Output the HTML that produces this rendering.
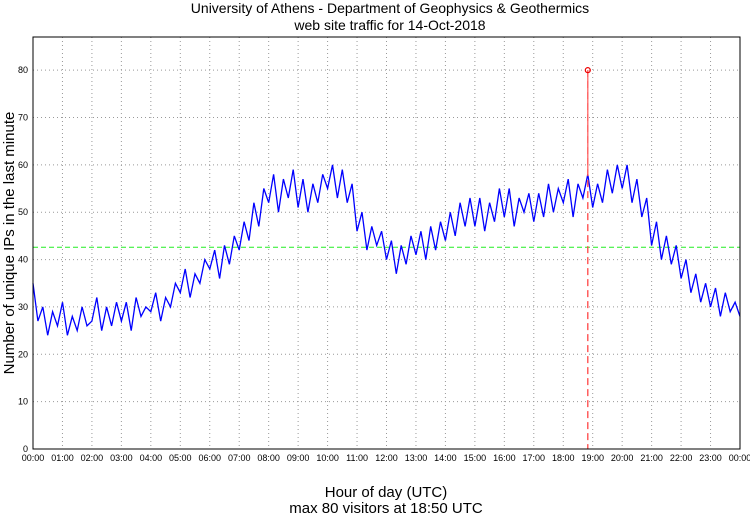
<!DOCTYPE html>
<html><head><meta charset="utf-8"><style>
body{margin:0;background:#fff;}
svg{display:block;font-family:"Liberation Sans",sans-serif;}
</style></head><body>
<svg id="chart" width="750" height="515">
<text x="390" y="13" font-size="14" text-anchor="middle">University of Athens - Department of Geophysics &amp; Geothermics</text>
<text x="390" y="30" font-size="14" text-anchor="middle">web site traffic for 14-Oct-2018</text>
<text x="386" y="497" font-size="15" text-anchor="middle">Hour of day (UTC)</text>
<text x="386" y="513" font-size="15" text-anchor="middle">max 80 visitors at 18:50 UTC</text>
<text transform="translate(14,243) rotate(-90)" font-size="15" text-anchor="middle">Number of unique IPs in the last minute</text>
<g id="grid"></g><g id="ticks"></g><g id="marks"></g>
<rect x="33" y="37" width="707" height="412" fill="none" stroke="#000" stroke-width="1"/>
</svg>
<script>
const yTicks=[0,10,20,30,40,50,60,70,80];
const xTickLabels=["00:00","01:00","02:00","03:00","04:00","05:00","06:00","07:00","08:00","09:00","10:00","11:00","12:00","13:00","14:00","15:00","16:00","17:00","18:00","19:00","20:00","21:00","22:00","23:00","00:00"];
// visitors sampled every 10 minutes (hours 00..23) plus final
const visitors=[35,27,30,24,29,26, 31,24,28,25,30,26, 27,32,25,30,26,31, 27,31,25,32,28,30,
29,33,27,32,30,35, 33,38,32,37,35,40, 38,42,36,43,39,45, 42,48,44,52,47,55,
52,58,50,57,53,59, 51,57,50,56,52,58, 55,60,53,59,52,56, 46,50,42,47,43,46,
40,44,37,43,39,45, 41,46,40,47,42,48, 44,50,45,52,47,53, 47,53,46,52,48,55,
49,55,47,53,50,54, 48,54,49,56,50,55, 52,57,49,56,53,58, 51,56,52,59,54,60,
55,60,52,57,49,53, 43,48,40,45,39,43, 36,40,33,37,31,35, 30,34,28,33,29,31, 28];
const meanValue=[42.6];
const peakMinute=[18*60+50];
const peakValue=[80];
const X0=33,X1=740,Y0=449,YT=37,YMAX=87;
const xs=m=>X0+(X1-X0)*m/1440;
const ys=v=>Y0-(Y0-YT)*v/YMAX;
const NS='http://www.w3.org/2000/svg';
function mk(t,a,p){const e=document.createElementNS(NS,t);for(const k in a)e.setAttribute(k,a[k]);p.appendChild(e);return e;}
const grid=document.getElementById('grid'),ticks=document.getElementById('ticks'),marks=document.getElementById('marks');
yTicks.forEach(v=>{
 const l=mk('line',{x1:X0,x2:X1,y1:ys(v),y2:ys(v),stroke:'#999','stroke-dasharray':'1,3'},grid);
 
 
 const t=mk('text',{x:X0-5,y:ys(v)+3,'font-size':9,'text-anchor':'end'},ticks);t.textContent=v;
 
 
});
xTickLabels.forEach((s,i)=>{
 const x=xs(i*60);
 const l=mk('line',{x1:x,x2:x,y1:YT,y2:Y0,stroke:'#999','stroke-dasharray':'1,3'},grid);
 
 
 const t=mk('text',{x:x,y:461,'font-size':9,'text-anchor':'middle'},ticks);t.textContent=s;
 
 
});
const ml=mk('line',{x1:X0,x2:X1,y1:ys(meanValue[0]),y2:ys(meanValue[0]),stroke:'#2e2','stroke-dasharray':'5,3'},marks);


const pts=visitors.map((v,i)=>xs(i*10).toFixed(1)+','+ys(v).toFixed(1)).join(' ');
const pl=mk('polyline',{points:pts,fill:'none',stroke:'#00f','stroke-width':1.3},marks);


const px=xs(peakMinute[0]);
const dl=mk('line',{x1:px,x2:px,y1:ys(peakValue[0]),y2:Y0,stroke:'#f44','stroke-width':1.3,'stroke-dasharray':'7,4'},marks);


const sl=mk('line',{x1:px,x2:px,y1:ys(peakValue[0]),y2:ys(58),stroke:'#f66','stroke-width':1.3},marks);


const pm=mk('circle',{cx:px,cy:ys(peakValue[0]),r:2.5,fill:'none',stroke:'#e00','stroke-width':1.2},marks);


</script>
</body></html>
